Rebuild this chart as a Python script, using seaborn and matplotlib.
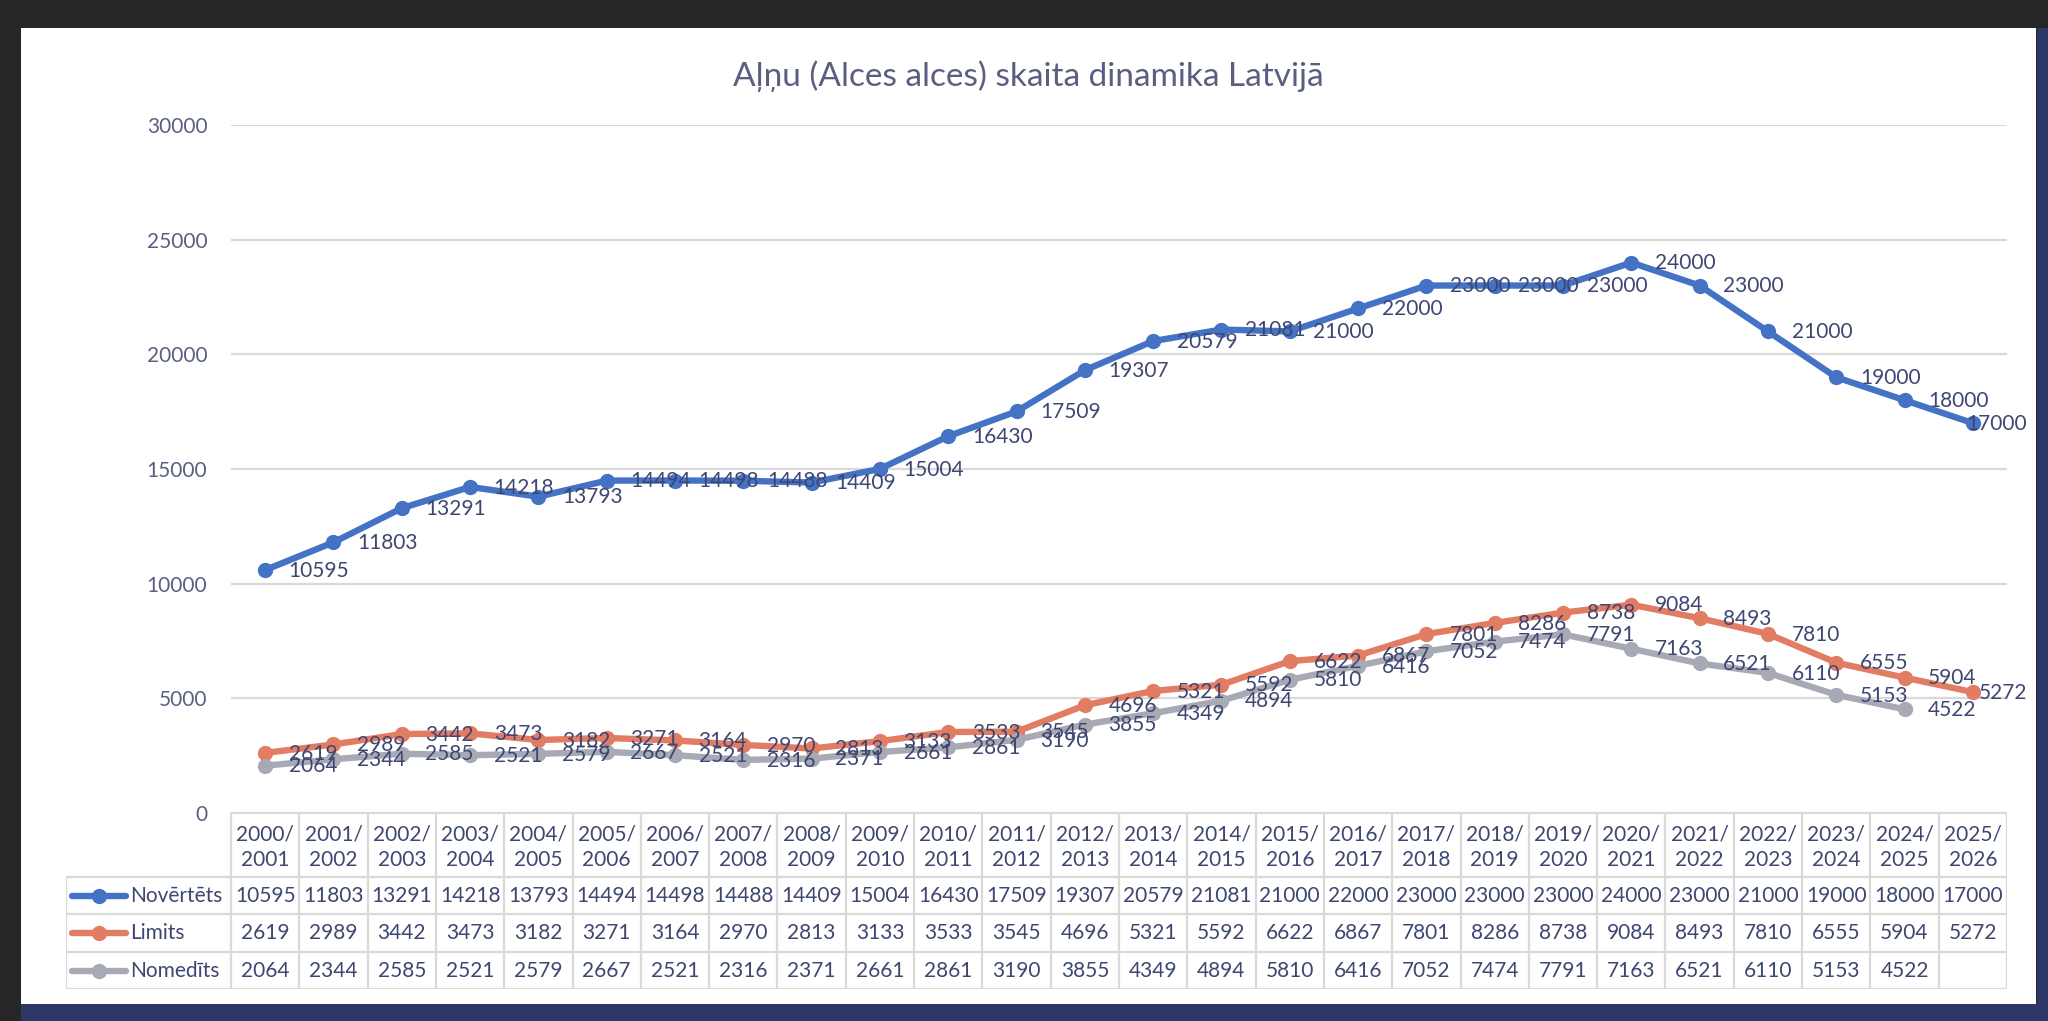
"""Moose (Alces alces) population chart with Excel-style data table."""

import matplotlib

matplotlib.use("Agg")
import matplotlib.pyplot as plt
import numpy as np
import pandas as pd
import seaborn as sns
from matplotlib.lines import Line2D
from matplotlib.patches import Rectangle

SEASONS = [
    "2000/2001", "2001/2002", "2002/2003", "2003/2004", "2004/2005", "2005/2006",
    "2006/2007", "2007/2008", "2008/2009", "2009/2010", "2010/2011", "2011/2012",
    "2012/2013", "2013/2014", "2014/2015", "2015/2016", "2016/2017", "2017/2018",
    "2018/2019", "2019/2020", "2020/2021", "2021/2022", "2022/2023", "2023/2024",
    "2024/2025", "2025/2026",
]
NOVERTETS = [10595, 11803, 13291, 14218, 13793, 14494, 14498, 14488, 14409, 15004,
             16430, 17509, 19307, 20579, 21081, 21000, 22000, 23000, 23000, 23000,
             24000, 23000, 21000, 19000, 18000, 17000]
LIMITS = [2619, 2989, 3442, 3473, 3182, 3271, 3164, 2970, 2813, 3133, 3533, 3545,
          4696, 5321, 5592, 6622, 6867, 7801, 8286, 8738, 9084, 8493, 7810, 6555,
          5904, 5272]
NOMEDITS = [2064, 2344, 2585, 2521, 2579, 2667, 2521, 2316, 2371, 2661, 2861, 3190,
            3855, 4349, 4894, 5810, 6416, 7052, 7474, 7791, 7163, 6521, 6110, 5153,
            4522, np.nan]
SERIES = ["Novērtēts", "Limits", "Nomedīts"]
Y_TICKS = [0, 5000, 10000, 15000, 20000, 25000, 30000]
TITLE = "Aļņu (Alces alces) skaita dinamika Latvijā"

COLORS = {"Novērtēts": "#4472C4", "Limits": "#E27C63", "Nomedīts": "#A7A9B5"}
TEXT = "#3E4672"
TICK = "#5A5F82"
GRID = "#D9D9D9"

W, H = 2048, 1021


def px_rect(fig, x0, y0, x1, y1, color):
    fig.add_artist(Rectangle((x0 / W, 1 - y1 / H), (x1 - x0) / W, (y1 - y0) / H,
                             transform=fig.transFigure, facecolor=color,
                             edgecolor="none", zorder=0))


sns.set_theme(style="white")
plt.rcParams["font.family"] = ["Lato", "DejaVu Sans"]

values = {"Novērtēts": NOVERTETS, "Limits": LIMITS, "Nomedīts": NOMEDITS}
pos = np.arange(len(SEASONS))
df = pd.concat(
    [pd.DataFrame({"pos": pos, "season": SEASONS, "series": s, "value": values[s]})
     for s in SERIES],
    ignore_index=True,
)

fig = plt.figure(figsize=(W / 100, H / 100), dpi=100, facecolor="#262626")
px_rect(fig, 21, 28, 2036, 1004, "white")
px_rect(fig, 2037, 28, 2048, 1021, "#2B3868")
px_rect(fig, 21, 1004, 2048, 1021, "#2B3868")

# plot area
left_px, right_px, top_px, zero_px = 231, 2007, 125, 813
ax = fig.add_axes([left_px / W, 1 - zero_px / H, (right_px - left_px) / W,
                   (zero_px - top_px) / H])
ax.set_facecolor("none")
sns.lineplot(data=df.dropna(), x="pos", y="value", hue="series", palette=COLORS,
             hue_order=SERIES, marker="o", markersize=11, markeredgewidth=0,
             linewidth=4.6, legend=False, sort=False, ax=ax, zorder=3)
ax.set_xlim(-0.5, len(SEASONS) - 0.5)
ax.set_ylim(0, 30000)
ax.set_yticks(Y_TICKS)
ax.set_yticklabels([str(t) for t in Y_TICKS])
ax.set_xticks([])
ax.set_xlabel("")
ax.set_ylabel("")
ax.yaxis.grid(True, color=GRID, linewidth=1.6)
ax.set_axisbelow(True)
ax.tick_params(axis="y", length=0, pad=17, labelsize=15, labelcolor=TICK)
for spine in ax.spines.values():
    spine.set_visible(False)

labels = []
for s in SERIES:
    for x, v in zip(pos, values[s]):
        if np.isnan(v):
            continue
        t = ax.annotate(f"{int(v)}", (x, v), xytext=(17, -0.5), textcoords="offset points",
                        ha="left", va="center", fontsize=15, color=TEXT,
                        annotation_clip=False, zorder=5)
        labels.append(t)

fig.text(1028 / W, 1 - 76 / H, TITLE, ha="center", va="center", fontsize=24, color=TICK)

# keep data labels inside the chart area, like Excel does
fig.canvas.draw()
renderer = fig.canvas.get_renderer()
limit = 2027
for t in labels:
    bb = t.get_window_extent(renderer)
    if bb.x1 > limit:
        dx, dy = t.xyann
        t.xyann = (dx - (bb.x1 - limit) * 72 / fig.dpi, dy)

# data table under the plot
tab_left, tab_bottom = 66, 989
col_w = (right_px - left_px) / len(SEASONS)
tax = fig.add_axes([tab_left / W, 1 - tab_bottom / H, (right_px - tab_left) / W,
                    (tab_bottom - zero_px) / H])
tax.set_xlim(-0.5 - (left_px - tab_left) / col_w, len(SEASONS) - 0.5)
tax.set_ylim(tab_bottom - zero_px, 0)
tax.axis("off")
tax.set_facecolor("none")

rows = [0, 64, 101, 139, 176]
x_first = -0.5 - (left_px - tab_left) / col_w
x_end = len(SEASONS) - 0.5
lkw = dict(color=GRID, linewidth=1.6, solid_capstyle="butt")
tax.plot([-0.5, x_end], [rows[0], rows[0]], **lkw)
for r in rows[1:]:
    tax.plot([x_first, x_end], [r, r], **lkw)
for i in range(len(SEASONS) + 1):
    tax.plot([i - 0.5, i - 0.5], [rows[0], rows[-1]], **lkw)
tax.plot([x_first, x_first], [rows[1], rows[-1]], **lkw)

for i, season in enumerate(SEASONS):
    a, b = season.split("/")
    tax.text(i, 21, a + "/", ha="center", va="center", fontsize=15, color=TEXT)
    tax.text(i, 47, b, ha="center", va="center", fontsize=15, color=TEXT)

for k, s in enumerate(SERIES):
    yc = (rows[k + 1] + rows[k + 2]) / 2
    for i, v in enumerate(values[s]):
        if not np.isnan(v):
            tax.text(i, yc, f"{int(v)}", ha="center", va="center", fontsize=15, color=TEXT)
    lx0 = x_first + 6 / col_w
    lx1 = x_first + 60 / col_w
    tax.add_line(Line2D([lx0, lx1], [yc, yc], color=COLORS[s], linewidth=4.6,
                        solid_capstyle="round"))
    tax.plot([(lx0 + lx1) / 2], [yc], "o", color=COLORS[s], markersize=11, markeredgewidth=0)
    tax.text(x_first + 64 / col_w, yc, s, ha="left", va="center", fontsize=15, color=TEXT)

fig.savefig("out.png", dpi=100, facecolor=fig.get_facecolor())
